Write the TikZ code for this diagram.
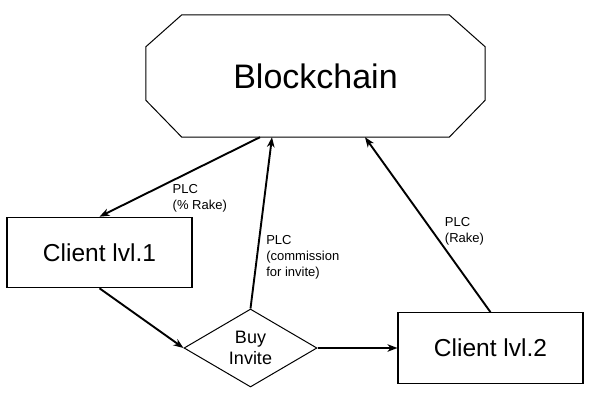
\documentclass[tikz,border=0pt]{standalone}
\usepackage{fontspec}
\setmainfont{Liberation Sans}
\usepackage{tikz}
\usetikzlibrary{arrows.meta, positioning, shapes.geometric}
\tikzset{
x=1pt, y=1pt,
on grid, % node distances are measured centre to centre
>={Stealth[length=10pt, width=7.5pt, inset=3pt]}, % arrow heads
chain/.style={rectangle, inner sep=0pt, minimum width=339pt, minimum height=122pt, font=\fontsize{34}{40}\selectfont},
client/.style={rectangle, draw, line width=1.1pt, inner sep=0pt, minimum width=185pt, minimum height=70.5pt, font=\fontsize{24.5}{29}\selectfont},
choice/.style={diamond, draw, line width=1pt, aspect=1.7, inner sep=0pt, minimum width=133pt, minimum height=78pt, align=center, font=\fontsize{18}{21}\selectfont},
flow/.style={->, line width=1.9pt},
lbl/.style={anchor=north west, inner sep=0pt, align=left, font=\fontsize{13}{16}\selectfont},
}

\begin{document}
\begin{tikzpicture}
      \useasboundingbox (0,0) rectangle (594,-404);
      \node[chain] (chain) at (315.5,-76) {Blockchain};
      \node[client, below left=176.5pt and 216pt of chain] (client1) {Client lvl.1};
      \node[choice, below right=95.5pt and 151pt of client1] (invite) {Buy\\Invite};
      \node[client, right=240pt of invite] (client2) {Client lvl.2};

      % octagon round the blockchain node
      \draw[line width=1pt] ([xshift=36pt]chain.north west) -- ([xshift=-36pt]chain.north east)
        -- ([yshift=-32pt]chain.north east) -- ([yshift=37pt]chain.south east)
        -- ([xshift=-36pt]chain.south east) -- ([xshift=36pt]chain.south west)
        -- ([yshift=37pt]chain.south west) -- ([yshift=-32pt]chain.north west) -- cycle;

      \draw[flow] ([xshift=-55.5pt]chain.south) -- node[lbl, pos=0.55, yshift=-2.5pt]{PLC\\(\% Rake)} (client1.north);
      \draw[flow] (invite.north) -- node[lbl, pos=0.435, xshift=5.5pt]{PLC\\(commission\\for invite)} ([xshift=-43.5pt]chain.south);
      \draw[flow] (client2.north) -- node[lbl, pos=0.546, xshift=22pt]{PLC\\(Rake)} ([xshift=49.5pt]chain.south);
      \draw[flow] (client1.south) -- (invite.west);
      \draw[flow] (invite.east) -- (client2.west);
    \end{tikzpicture}
\end{document}
